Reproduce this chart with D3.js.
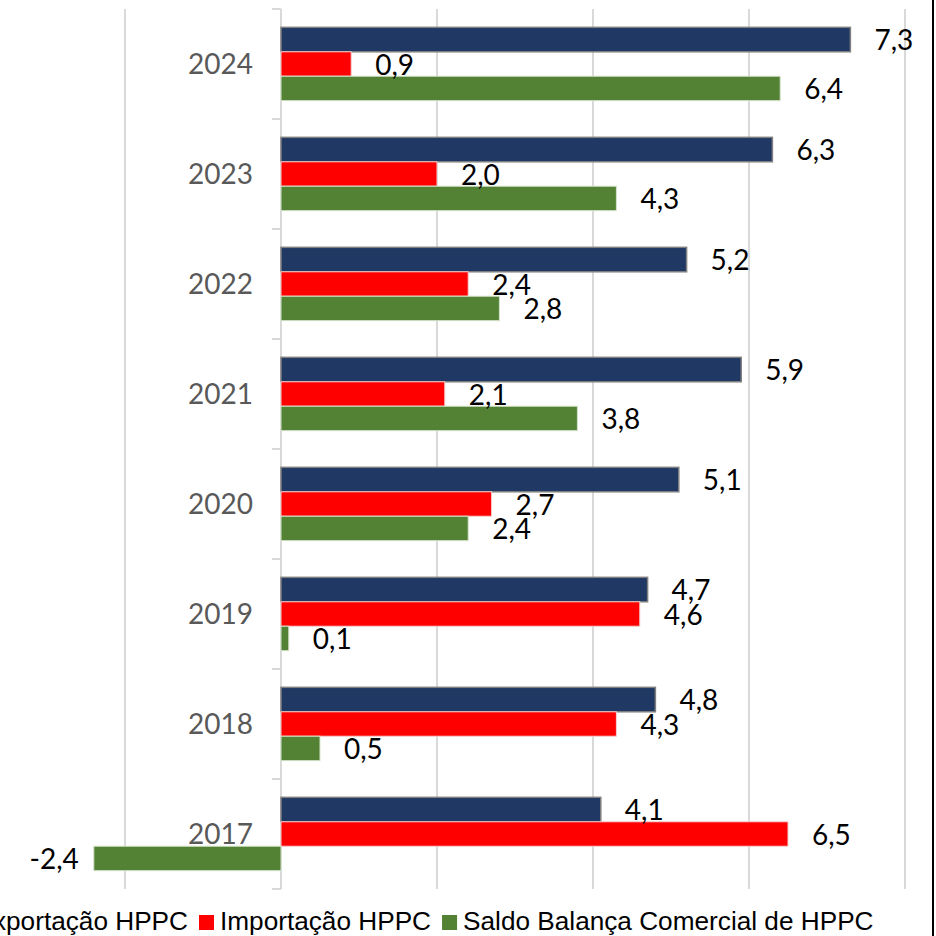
<!DOCTYPE html>
<html>
<head>
<meta charset="utf-8">
<script src="https://cdn.jsdelivr.net/npm/d3@7"></script>
<style>
  html, body { margin: 0; padding: 0; background: #ffffff; }
  svg { display: block; }
</style>
</head>
<body>
<svg id="chart" width="936" height="936"></svg>
<script>
const years = ["2017", "2018", "2019", "2020", "2021", "2022", "2023", "2024"];
const exportacao = [4.1, 4.8, 4.7, 5.1, 5.9, 5.2, 6.3, 7.3];
const importacao = [6.5, 4.3, 4.6, 2.7, 2.1, 2.4, 2.0, 0.9];
const saldo = [-2.4, 0.5, 0.1, 2.4, 3.8, 2.8, 4.3, 6.4];
const seriesNames = ["Exportação HPPC", "Importação HPPC", "Saldo Balança Comercial de HPPC"];
const xTicks = [-2, 0, 2, 4, 6, 8];

const seriesValues = [exportacao, importacao, saldo];
const colors = ["#203864", "#FF0000", "#548235"];
const strokes = ["#7f7f7f", "#f4d0d0", "#d6e3cc"];
const numFont = "Lato, 'Liberation Sans', sans-serif";
const legendFont = "'Liberation Sans', Arial, sans-serif";

const svg = d3.select("#chart");

const x = d3.scaleLinear().domain([-2, 8]).range([125, 905]);
const y = d3.scaleBand().domain(years.slice().reverse()).range([9, 889]).padding(0);
const ys = d3.scaleBand().domain([0, 1, 2]).range([0, y.bandwidth()]).paddingInner(0).paddingOuter(0.75);

// gridlines
svg.append("g").selectAll("line").data(xTicks.filter(t => t !== 0)).join("line")
  .attr("x1", d => x(d)).attr("x2", d => x(d))
  .attr("y1", 9).attr("y2", 889)
  .attr("stroke", "#d9d9d9").attr("stroke-width", 2);

// category axis at zero with ticks to the left
svg.append("line")
  .attr("x1", x(0)).attr("x2", x(0)).attr("y1", 9).attr("y2", 889)
  .attr("stroke", "#d9d9d9").attr("stroke-width", 2);
const boundaries = years.map(yr => y(yr)).concat([y.range()[1]]);
svg.append("g").selectAll("line").data(boundaries).join("line")
  .attr("x1", x(0) - 9).attr("x2", x(0))
  .attr("y1", d => d).attr("y2", d => d)
  .attr("stroke", "#d9d9d9").attr("stroke-width", 2);

// year labels
svg.append("g").selectAll("text").data(years).join("text")
  .attr("x", 253).attr("y", d => y(d) + y.bandwidth() / 2)
  .attr("dy", "0.36em")
  .attr("text-anchor", "end")
  .attr("font-family", numFont).attr("font-size", 28)
  .attr("fill", "#595959")
  .text(d => d);

// bars
const fmt = v => d3.format(".1f")(v).replace(".", ",").replace("−", "-");
seriesValues.forEach((vals, si) => {
  const g = svg.append("g");
  g.selectAll("rect").data(vals).join("rect")
    .attr("x", d => x(Math.min(0, d)))
    .attr("width", d => Math.abs(x(d) - x(0)))
    .attr("y", (d, i) => y(years[i]) + ys(si))
    .attr("height", ys.bandwidth())
    .attr("fill", colors[si])
    .attr("stroke", strokes[si])
    .attr("stroke-width", si === 0 ? 1.5 : 1);
});
seriesValues.forEach((vals, si) => {
  svg.append("g").selectAll("text").data(vals).join("text")
    .attr("x", d => d >= 0 ? x(d) + 24 : x(d) - 15)
    .attr("y", (d, i) => y(years[i]) + ys(si) + ys.bandwidth() / 2)
    .attr("dy", "0.38em")
    .attr("text-anchor", d => d >= 0 ? "start" : "end")
    .attr("font-family", numFont).attr("font-size", 28)
    .attr("fill", "#000000")
    .text(d => fmt(d));
});

// legend
const leg = svg.append("g");
const items = seriesNames.map((name, i) => {
  const t = leg.append("text")
    .attr("font-family", legendFont).attr("font-size", 26.2)
    .attr("fill", "#000000").attr("y", 930).text(name);
  return { t, w: t.node().getComputedTextLength(), i };
});
const markerSize = 15, markerGap = 6, itemGap = 11;
let startX = 199 - (markerSize + markerGap + items[0].w + itemGap);
items.forEach(it => {
  leg.append("rect")
    .attr("x", startX).attr("y", 915)
    .attr("width", markerSize).attr("height", markerSize)
    .attr("fill", colors[it.i]);
  it.t.attr("x", startX + markerSize + markerGap);
  startX += markerSize + markerGap + it.w + itemGap;
});

// right frame line
svg.append("line")
  .attr("x1", 933).attr("x2", 933).attr("y1", 0).attr("y2", 936)
  .attr("stroke", "#000000").attr("stroke-width", 2);
</script>
</body>
</html>
